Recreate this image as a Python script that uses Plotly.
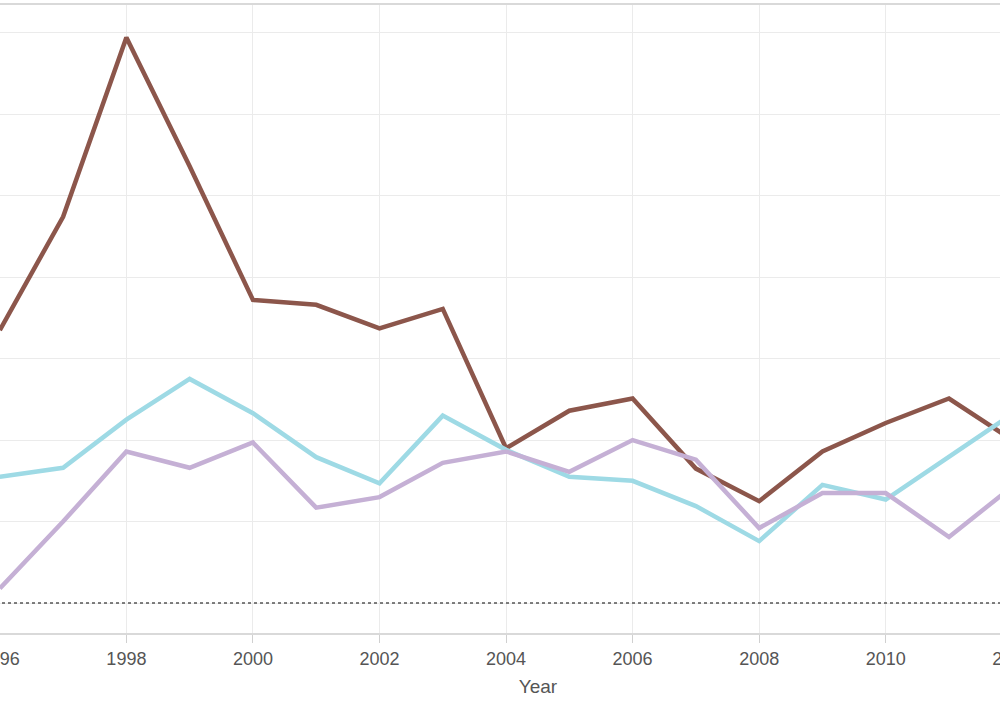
import plotly.graph_objects as go

years = list(range(1996, 2013))
brown = [33.5, 47.4, 69.4, 53.6, 37.2, 36.6, 33.7, 36.1, 19.0, 23.6, 25.1, 16.5, 12.5, 18.6, 22.1, 25.1, 20.0]
cyan = [15.5, 16.6, 22.5, 27.5, 23.3, 17.9, 14.7, 23.0, 18.8, 15.5, 15.0, 11.9, 7.6, 14.5, 12.7, 17.9, 23.2]
purple = [1.8, 10.0, 18.6, 16.6, 19.7, 11.7, 13.0, 17.2, 18.6, 16.1, 20.0, 17.6, 9.2, 13.5, 13.5, 8.1, 14.3]

series = [("Series A", brown, "#8c564b"), ("Series B", cyan, "#9edae5"), ("Series C", purple, "#c5b0d5")]

fig = go.Figure()
for name, vals, col in series:
    fig.add_trace(go.Scatter(x=years, y=vals, mode="lines", name=name,
                             line=dict(color=col, width=4.5)))

fig.add_shape(type="line", xref="paper", yref="y", x0=0, x1=1, y0=0, y1=0,
              line=dict(color="#555555", width=1.5, dash="dot"))

fig.update_layout(
    width=1112, height=705,
    margin=dict(l=0, r=0, t=5, b=72),
    paper_bgcolor="white", plot_bgcolor="white",
    showlegend=False,
    font=dict(family="Liberation Sans, Arial, sans-serif", color="#555555"),
    xaxis=dict(range=[1995.75, 2013.26], dtick=2, tick0=1996,
               showgrid=True, gridcolor="#ebebeb", gridwidth=1,
               showline=True, linecolor="#d9d9d9", linewidth=2, mirror=True,
               ticks="outside", ticklen=8, tickcolor="#d0d0d0",
               ticklabeloverflow="allow",
               tickfont=dict(size=18, color="#555555"),
               title=dict(text="Year", font=dict(size=19, color="#555555"), standoff=12),
               zeroline=False),
    yaxis=dict(range=[-3.68, 73.4], dtick=10, showgrid=True, gridcolor="#ebebeb",
               gridwidth=1, showticklabels=False, zeroline=False, showline=False),
)

post = ("document.body.style.margin='0';"
        "document.body.style.overflow='hidden';"
        "document.getElementById('{plot_id}').style.marginLeft='-20px';")

fig.write_html("out.html", post_script=post, config={"displayModeBar": False})
